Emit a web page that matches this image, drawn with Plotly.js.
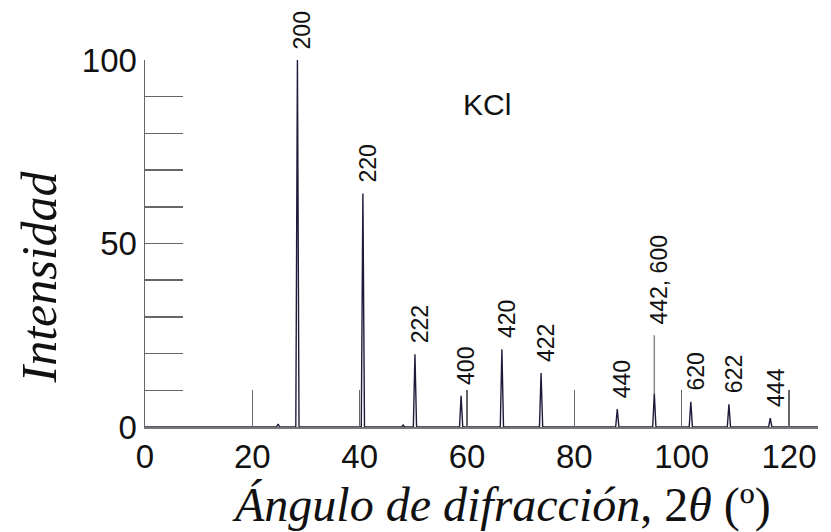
<!DOCTYPE html>
<html><head><meta charset="utf-8">
<script src="https://cdn.plot.ly/plotly-3.0.1.min.js"></script>
<style>html,body{margin:0;padding:0;background:#fff}</style>
</head><body><div id="chart" style="width:831px;height:532px"></div>
<script>
// Peak data (2θ in degrees, relative intensity)
const peakAngles      = [24.8, 28.4, 40.6, 48.1, 50.3, 58.9, 66.5, 73.8, 88.0, 94.9, 101.7, 108.8, 116.5];
const peakIntensities = [0.8, 100, 63.6, 0.5, 19.8, 8.5, 21.2, 14.7, 4.9, 9.2, 6.9, 6.2, 2.4];
const peakLabels      = ['', '200', '220', '', '222', '400', '420', '422', '440', '442, 600', '620', '622', '444'];
const scanRange = [0, 125.4];
const leaderTop = 25;           // top of the pointer line above the 442, 600 peak
const xTickVals = [0, 20, 40, 60, 80, 100, 120];
const yTickVals = [0, 10, 20, 30, 40, 50, 60, 70, 80, 90, 100];
const yTickText = ['0', '', '', '', '', '50', '', '', '', '', '100'];
const sampleName = 'KCl';
const xTitle = '<i>Ángulo de difracción</i>, 2<i>θ</i> (º)';
const yTitle = '<i>Intensidad</i>';

// Build the diffraction profile from the peak list
const halfWidth = 0.3;
const px = [scanRange[0]], py = [0];
peakAngles.forEach((a, i) => {
  px.push(a - halfWidth, a, a + halfWidth);
  py.push(0, peakIntensities[i], 0);
});
px.push(scanRange[1]); py.push(0);

const leaderIdx = peakLabels.indexOf('442, 600');

const traces = [
  {x: px, y: py, type: 'scatter', mode: 'lines',
   line: {color: '#1c1c3a', width: 1.4}, hoverinfo: 'skip', cliponaxis: false},
  {x: [peakAngles[leaderIdx], peakAngles[leaderIdx]], y: [peakIntensities[leaderIdx], leaderTop],
   type: 'scatter', mode: 'lines', line: {color: '#888', width: 1.5}, hoverinfo: 'skip'}
];

const labelFont = {family: 'Liberation Sans, Arial, sans-serif', size: 23, color: '#111'};
const annotations = [];
peakLabels.forEach((t, i) => {
  if (!t) return;
  const base = (i === leaderIdx) ? leaderTop : peakIntensities[i];
  annotations.push({x: peakAngles[i], y: base, xref: 'x', yref: 'y', text: t, showarrow: false,
    textangle: -90, xanchor: 'center', yanchor: 'bottom', yshift: 9, xshift: 5, font: labelFont});
});
annotations.push({x: 0.5, y: 0.88, xref: 'paper', yref: 'paper', text: sampleName, showarrow: false,
  xanchor: 'center', yanchor: 'middle', xshift: 5,
  font: {family: 'Liberation Sans, Arial, sans-serif', size: 30, color: '#111'}});
// axis titles
const serifFont = {family: 'Liberation Serif, Times New Roman, serif', size: 48, color: '#111'};
annotations.push({x: 0.5, y: 0, xref: 'paper', yref: 'paper', text: xTitle, showarrow: false,
  xanchor: 'center', yanchor: 'middle', xshift: 20, yshift: -78, font: serifFont});
annotations.push({x: 0, y: 0.5, xref: 'paper', yref: 'paper', text: yTitle, showarrow: false,
  textangle: -90, xanchor: 'center', yanchor: 'middle', xshift: -107, yshift: -34,
  font: {family: 'Liberation Serif, Times New Roman, serif', size: 50, color: '#111'}});

const axisFont = {family: 'Liberation Sans, Arial, sans-serif', size: 33, color: '#111'};
const layout = {
  width: 831, height: 532,
  margin: {l: 145, r: 13, t: 60, b: 105},
  paper_bgcolor: '#fff', plot_bgcolor: '#fff',
  showlegend: false,
  xaxis: {range: scanRange, tickvals: xTickVals, ticks: 'inside', ticklen: 37, tickwidth: 1.5,
    tickcolor: '#666', showline: true, linecolor: '#777', linewidth: 1.5, showgrid: false, zeroline: false,
    tickfont: axisFont, title: {text: ''}},
  yaxis: {range: [0, 100], tickvals: yTickVals, ticktext: yTickText, ticks: 'inside', ticklen: 38, tickwidth: 1.5,
    tickcolor: '#666', showline: true, linecolor: '#666', linewidth: 1.5, showgrid: false, zeroline: false,
    tickfont: axisFont, title: {text: ''}},
  annotations: annotations
};

Plotly.newPlot('chart', traces, layout, {staticPlot: true, displayModeBar: false});
</script>
</body></html>
